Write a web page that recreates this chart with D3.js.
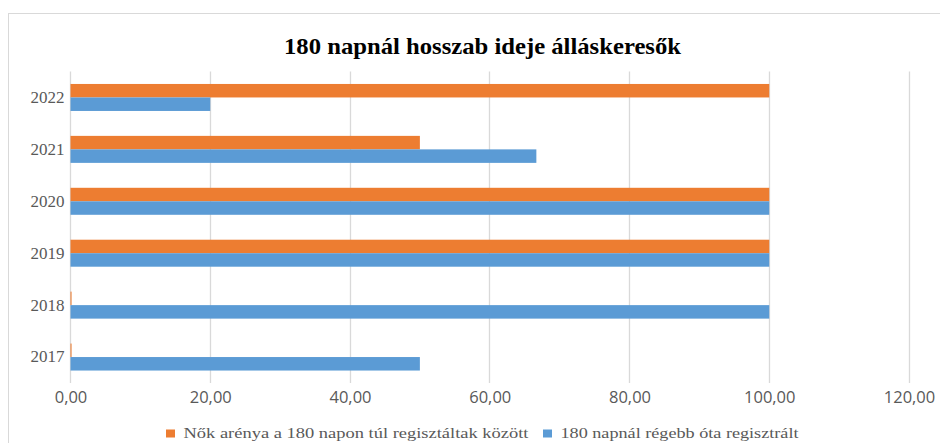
<!DOCTYPE html>
<html>
<head>
<meta charset="utf-8">
<script src="https://cdn.jsdelivr.net/npm/d3@7"></script>
<style>
  body { margin: 0; background: #fff; }
</style>
</head>
<body>
<script>
// data
var years = ["2022", "2021", "2020", "2019", "2018", "2017"];
var nokArany = [100, 50, 100, 100, 0.15, 0.15];       // Nők aránya a 180 napon túl regisztáltak között
var regebbOta = [20, 66.67, 100, 100, 100, 50];       // 180 napnál régebb óta regisztrált
var xTicks = [0, 20, 40, 60, 80, 100, 120];
var seriesNames = ["Nők arénya a 180 napon túl regisztáltak között", "180 napnál régebb óta regisztrált"];
var seriesColors = ["#ED7D31", "#5B9BD5"];

var W = 940, H = 443;
var margin = {top: 71.5, right: 31, bottom: 60, left: 70.5};
var width = W - margin.left - margin.right;
var height = H - margin.top - margin.bottom;
var serif = "'Liberation Serif', 'Times New Roman', serif";

var svg = d3.select("body").append("svg")
    .attr("width", W)
    .attr("height", H);

// chart border (right and bottom run off the picture)
svg.append("rect")
    .attr("x", 8.5).attr("y", 13.5)
    .attr("width", 1000).attr("height", 1000)
    .attr("fill", "none")
    .attr("stroke", "#d9d9d9");

// title (the source picture is a bit stretched sideways)
svg.append("text")
    .attr("x", 284)
    .attr("y", 54)
    .attr("font-family", serif)
    .attr("font-weight", "bold")
    .attr("font-size", "22.5px")
    .attr("fill", "#000")
    .attr("textLength", 397)
    .attr("lengthAdjust", "spacingAndGlyphs")
    .text("180 napnál hosszab ideje álláskeresők");

var g = svg.append("g")
    .attr("transform", "translate(" + margin.left + "," + margin.top + ")");

// scales
var x = d3.scaleLinear().domain([0, 120]).range([0, width]);
var y = d3.scaleBand().domain(years).range([0, height]).paddingInner(0.48).paddingOuter(0.24);
var ySub = d3.scaleBand().domain([0, 1]).range([0, y.bandwidth()]);

// gridlines
g.append("g")
    .selectAll("line")
    .data(xTicks)
    .enter().append("line")
    .attr("x1", (d) => Math.round(x(d)))
    .attr("x2", (d) => Math.round(x(d)))
    .attr("y1", 0)
    .attr("y2", height)
    .attr("stroke", "#d9d9d9")
    .attr("stroke-width", 1.3);

// x axis
var xAxis = d3.axisBottom(x)
    .tickValues(xTicks)
    .tickSize(0)
    .tickPadding(8)
    .tickFormat((d) => d3.format(".2f")(d).replace(".", ","));

var xa = g.append("g")
    .attr("transform", "translate(0," + height + ")")
    .call(xAxis);
xa.select(".domain").remove();
xa.selectAll("text")
    .attr("font-family", "'Open Sans', sans-serif")
    .attr("font-size", "16.5px")
    .attr("fill", "#595959");

// y axis
var yAxis = d3.axisLeft(y).tickSize(0).tickPadding(6);
var ya = g.append("g").call(yAxis);
ya.select(".domain").remove();
ya.selectAll("text")
    .attr("font-family", serif)
    .attr("font-size", "17px")
    .attr("fill", "#595959");

// bars
var series = [nokArany, regebbOta];
series.forEach((vals, si) => {
    g.append("g")
        .selectAll("rect")
        .data(vals)
        .enter().append("rect")
        .attr("x", x(0))
        .attr("y", (d, i) => y(years[i]) + ySub(si))
        .attr("width", (d) => x(d) - x(0))
        .attr("height", ySub.bandwidth())
        .attr("fill", seriesColors[si]);
});

// legend
var legendLen = [345, 238];
var legend = svg.append("g").attr("transform", "translate(0,433.5)");
var lx = 166;
seriesNames.forEach((name, i) => {
    var item = legend.append("g").attr("transform", "translate(" + lx + ",0)");
    item.append("rect")
        .attr("y", -4).attr("width", 9).attr("height", 8)
        .attr("fill", seriesColors[i]);
    item.append("text")
        .attr("x", 17.5)
        .attr("y", 0)
        .attr("dy", "0.34em")
        .attr("font-family", serif)
        .attr("font-size", "14.5px")
        .attr("fill", "#595959")
        .attr("textLength", legendLen[i])
        .attr("lengthAdjust", "spacingAndGlyphs")
        .text(name);
    lx += 17.5 + legendLen[i] + 14.5;
});
</script>
</body>
</html>
